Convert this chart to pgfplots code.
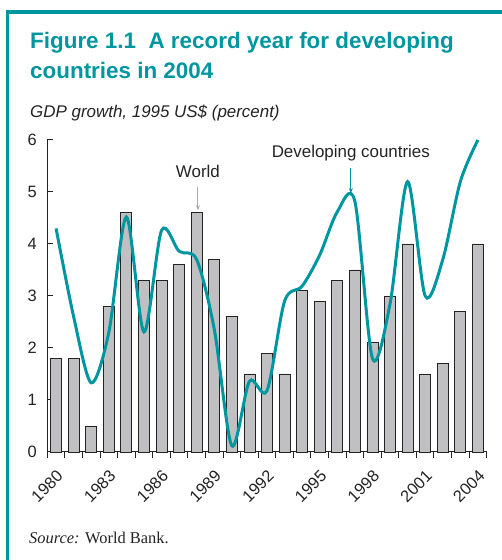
\documentclass[border=0pt]{standalone}
\usepackage{pgfplots}
\pgfplotsset{compat=1.18}
\usetikzlibrary{arrows.meta}
\usepackage{fontspec}
\setmainfont{Liberation Sans}
\newfontfamily\serif{Liberation Serif}
\definecolor{teal1}{RGB}{0,150,160}
\definecolor{bargray}{RGB}{192,192,194}
\definecolor{txt}{RGB}{35,35,35}

\begin{document}
\begin{tikzpicture}
\path[use as bounding box] (0bp,0bp) rectangle (502bp,560bp);
\draw[teal1, line width=3.5bp] (7.7bp,0bp) -- (7.7bp,548bp) -- (502bp,548bp);
\node[anchor=base west, inner sep=0pt, text=teal1, font=\fontsize{22.5}{27}\selectfont\bfseries]
  at (30bp,511bp) {Figure 1.1\ \ A record year for developing};
\node[anchor=base west, inner sep=0pt, text=teal1, font=\fontsize{22.5}{27}\selectfont\bfseries]
  at (30bp,481bp) {countries in 2004};
\node[anchor=base west, inner sep=0pt, text=txt, font=\fontsize{17}{20}\selectfont\itshape]
  at (30bp,442bp) {GDP growth, 1995 US\$ (percent)};
\node[anchor=base west, inner sep=0pt, text=txt, font=\serif\fontsize{16.5}{20}\selectfont]
  at (29bp,17bp) {\textit{Source:} World Bank.};

\begin{axis}[
  at={(47.3bp,108bp)}, anchor=south west,
  scale only axis, width=439.4bp, height=312bp,
  xmin=1979.5, xmax=2004.5, ymin=0, ymax=6,
  axis x line*=bottom, axis y line*=left,
  axis line style={txt, line width=1bp},
  major tick length=6bp,
  every tick/.style={txt, line width=1bp},
  xtick align=outside, ytick align=inside,
  xtick={1979.5,1980.5,1981.5,1982.5,1983.5,1984.5,1985.5,1986.5,1987.5,1988.5,1989.5,1990.5,1991.5,1992.5,1993.5,1994.5,1995.5,1996.5,1997.5,1998.5,1999.5,2000.5,2001.5,2002.5,2003.5,2004.5},
  xticklabel=\empty,
  extra x ticks={1980,1983,1986,1989,1992,1995,1998,2001,2004},
  extra x tick labels={1980,1983,1986,1989,1992,1995,1998,2001,2004},
  extra x tick style={major tick length=0pt,
    tick label style={xshift=4bp, yshift=-21bp, rotate=45, anchor=east, inner sep=0pt}},
  ytick={0,1,2,3,4,5,6},
  tick label style={font=\fontsize{16.5}{20}\selectfont, text=txt},
  yticklabel style={xshift=-7bp},
  /pgf/number format/assume math mode=true,
  clip=false,
]
\addplot[ybar, bar width=11bp, fill=bargray, draw=txt, line width=0.8bp] coordinates {
(1980,1.8) (1981,1.8) (1982,0.5) (1983,2.8) (1984,4.6) (1985,3.3) (1986,3.3)
(1987,3.6) (1988,4.6) (1989,3.7) (1990,2.6) (1991,1.5) (1992,1.9) (1993,1.5)
(1994,3.1) (1995,2.9) (1996,3.3) (1997,3.5) (1998,2.1) (1999,3.0) (2000,4.0)
(2001,1.5) (2002,1.7) (2003,2.7) (2004,4.0)
};
\addplot[teal1, line width=3bp, smooth, mark=none] coordinates {
(1980,4.30) (1981,2.60) (1982,1.33) (1983,2.30) (1984,4.52) (1985,2.31)
(1986,4.26) (1987,3.86) (1988,3.70) (1989,2.36) (1990,0.12) (1991,1.36)
(1992,1.18) (1993,2.90) (1994,3.19) (1995,3.79) (1996,4.62) (1997,4.82)
(1998,1.80) (1999,2.85) (2000,5.20) (2001,3.00) (2002,3.70) (2003,5.20)
(2004,6.00)
};
\node[anchor=base, inner sep=0pt, text=txt, font=\fontsize{17}{20}\selectfont]
  at (axis cs:1988.07,5.27) {World};
\draw[-{Stealth[length=5bp,width=4bp]}, color={rgb,255:red,170;green,170;blue,170}, line width=1bp]
  (axis cs:1988.07,5.10) -- (axis cs:1988.07,4.65);
\node[anchor=base, inner sep=0pt, text=txt, font=\fontsize{17}{20}\selectfont]
  at (axis cs:1996.77,5.67) {Developing countries};
\draw[-{Stealth[length=5bp,width=4bp]}, teal1, line width=1bp]
  (axis cs:1996.77,5.46) -- (axis cs:1996.77,4.98);
\end{axis}
\end{tikzpicture}
\end{document}
